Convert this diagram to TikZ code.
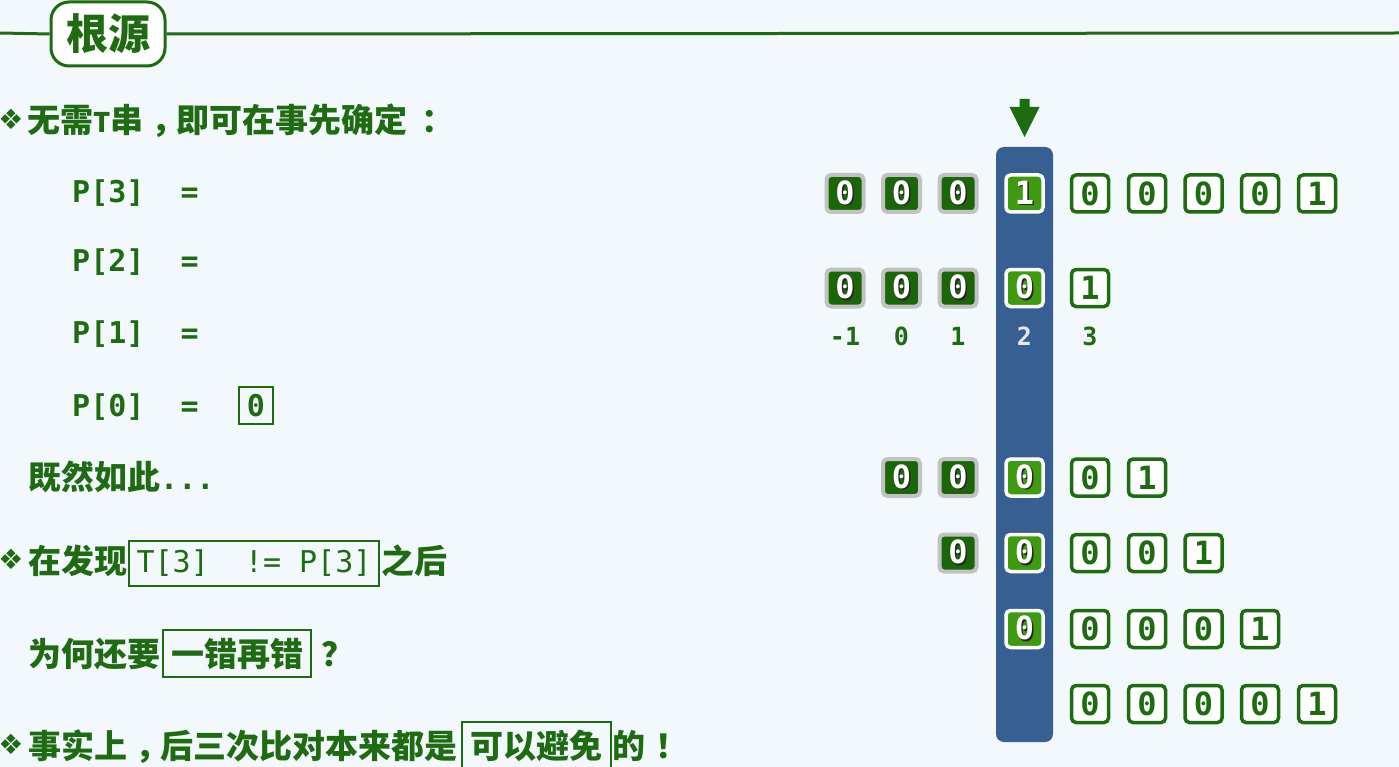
\documentclass[tikz,border=0pt]{standalone}
\usepackage{fontspec}
\setmonofont{DejaVu Sans Mono}
\newfontfamily\cjk{Noto Sans CJK SC}
\newfontfamily\symf{DejaVu Sans}
\definecolor{bg}{HTML}{F3F8FC}
\definecolor{dg}{HTML}{1E6B12}
\definecolor{dkg}{HTML}{1B6608}
\definecolor{brg}{HTML}{3E9A0E}
\definecolor{gr}{HTML}{C2C2C2}
\definecolor{colb}{HTML}{375F91}
\definecolor{lite}{HTML}{E2E9F2}
\newcommand\shd[1]{\makebox[0pt][l]{\kern1.6pt\raisebox{-1.6pt}{\color{black!85}#1}}#1}
\newcommand\cp[2][8pt]{\kern#1#2\kern-#1}
\begin{document}
\begin{tikzpicture}[x=1pt,y=-1pt,
  txt/.style={inner sep=0pt, anchor=base west, text=dg, font=\cjk\bfseries\fontsize{33}{40}\selectfont},
  mono/.style={inner sep=0pt, anchor=base west, text=dg, font=\ttfamily\bfseries\fontsize{30}{36}\selectfont},
  bul/.style={inner sep=0pt, text=dg, font=\symf\fontsize{28}{32}\selectfont},
  hl/.style={draw=dg, line width=1.5pt, inner sep=0pt},
  cell/.style={rounded corners=4.5pt, minimum width=37pt, minimum height=37pt, inner sep=0pt, font=\ttfamily\bfseries\fontsize{32}{38}\selectfont},
  dcell/.style={cell, fill=dkg, draw=gr, line width=4pt, text=white},
  bcell/.style={cell, fill=brg, draw=white, line width=3.5pt, text=white},
  wcell/.style={cell, fill=white, draw=dg, line width=3.5pt, text=dg},
  idx/.style={inner sep=0pt, anchor=base, text=dg, font=\ttfamily\bfseries\fontsize{25}{30}\selectfont}]
\useasboundingbox (0,0) rectangle (1399,767);
\fill[bg] (0,0) rectangle (1399,767);

% title
\node[draw=dg, line width=3pt, fill=white, rounded corners=18pt, minimum width=114pt, minimum height=64pt, inner sep=0pt, text=dg, font=\cjk\bfseries\fontsize{42}{48}\selectfont] (title) at (108,34) {根源};
\coordinate (L) at (0,33);
\coordinate (R) at (1399,33);
\draw[dg, line width=3pt] (L) -- (title.west);
\draw[dg, line width=3pt] (title.east) -- (R);

% left text
\node[bul] (b1) at (11,119) {❖};
\node[txt] (t1) at (27,133) {无需{\fontsize{27}{30}\selectfont T}串\cp{，}即可在事先确定\cp[14pt]{：}};
\node[mono] (p3) at (72,203) {P[3]\ \ =};
\node[mono] (p2) at (72,272) {P[2]\ \ =};
\node[mono] (p1) at (72,343) {P[1]\ \ =};
\node[mono] (p0) at (72,416) {P[0]\ \ =};
\node[hl, minimum width=34pt, minimum height=37pt, text=dg, font=\ttfamily\bfseries\fontsize{30}{36}\selectfont] (p0v) at (256,405.5) {0};
\node[txt] (t2) at (28,489) {既然如此{\ttfamily\fontsize{30}{36}\selectfont...}};

\node[bul] (b2) at (11,559) {❖};
\node[txt] (t3a) at (28,573) {在发现};
\node[hl, minimum width=250pt, minimum height=45pt, text=dg, font=\ttfamily\fontsize{30}{36}\selectfont] (t3b) at (254,563.5) {T[3]\ \ !=\ P[3]};
\node[txt] (t3c) at (381,573) {之后};

\node[txt] (t4a) at (28,666) {为何还要};
\node[hl, minimum width=148pt, minimum height=47pt, text=dg, font=\cjk\bfseries\fontsize{33}{40}\selectfont] (t4b) at (237,653.5) {一错再错};
\node[txt] (t4c) at (311,666) {\cp[10pt]{？}};

\node[bul] (b3) at (11,744) {❖};
\node[txt] (t5a) at (28,758) {事实上\cp{，}后三次比对本来都是};
\node[hl, minimum width=149pt, minimum height=48pt, text=dg, font=\cjk\bfseries\fontsize{33}{40}\selectfont] (t5b) at (536.5,746) {可以避免};
\node[txt] (t5c) at (612,758) {的\cp[10pt]{！}};

% column and arrow
\fill[colb, rounded corners=8pt] (996,147) rectangle (1053,742);
\fill[dg] (1019.5,99) -- (1029.5,99) -- (1029.5,107) -- (1039.5,107) -- (1024.5,137) -- (1009.5,107) -- (1019.5,107) -- cycle;

% row 1
\foreach \x/\n in {845/1,901.5/2,958/3} \node[dcell] (r1c\n) at (\x,193.5) {\shd{0}};
\node[bcell] (r1c4) at (1024.5,193.5) {\shd{1}};
\foreach \x/\n/\v in {1090/5/0,1147/6/0,1203.5/7/0,1260/8/0,1317/9/1} \node[wcell] (r1c\n) at (\x,193.5) {\v};
% row 2
\foreach \x/\n in {845/1,901.5/2,958/3} \node[dcell] (r2c\n) at (\x,288) {\shd{0}};
\node[bcell] (r2c4) at (1024.5,288) {\shd{0}};
\node[wcell] (r2c5) at (1090,288) {1};
% index
\node[idx] (i1) at (845,345) {-1};
\node[idx] (i2) at (901.5,345) {0};
\node[idx] (i3) at (958,345) {1};
\node[idx, text=lite] (i4) at (1024.5,345) {2};
\node[idx] (i5) at (1090,345) {3};
% row 3
\foreach \x/\n in {901.5/2,958/3} \node[dcell] (r3c\n) at (\x,477.5) {\shd{0}};
\node[bcell] (r3c4) at (1024.5,477.5) {\shd{0}};
\foreach \x/\n/\v in {1090/5/0,1147/6/1} \node[wcell] (r3c\n) at (\x,477.5) {\v};
% row 4
\node[dcell] (r4c3) at (958,553) {\shd{0}};
\node[bcell] (r4c4) at (1024.5,553) {\shd{0}};
\foreach \x/\n/\v in {1090/5/0,1147/6/0,1203.5/7/1} \node[wcell] (r4c\n) at (\x,553) {\v};
% row 5
\node[bcell] (r5c4) at (1024.5,629) {\shd{0}};
\foreach \x/\n/\v in {1090/5/0,1147/6/0,1203.5/7/0,1260/8/1} \node[wcell] (r5c\n) at (\x,629) {\v};
% row 6
\foreach \x/\n/\v in {1090/5/0,1147/6/0,1203.5/7/0,1260/8/0,1317/9/1} \node[wcell] (r6c\n) at (\x,704) {\v};
\end{tikzpicture}
\end{document}
